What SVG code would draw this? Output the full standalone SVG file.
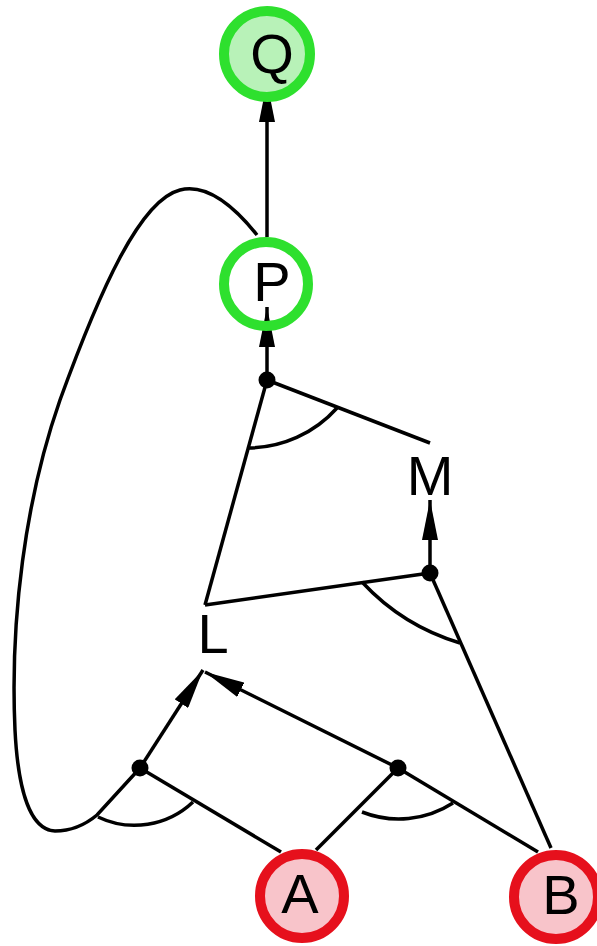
<svg xmlns="http://www.w3.org/2000/svg" width="597" height="946" viewBox="0 0 597 946">
<style>
.e{stroke:#000;stroke-width:3.5;fill:none}
.g{stroke:#2ee02e;stroke-width:10}
.r{stroke:#e6101c;stroke-width:10}
.t{font-family:"Liberation Sans",Arial,sans-serif;font-size:56px;fill:#000;text-anchor:middle}
.d{fill:#000}
</style>
<defs>
<marker id="ah" viewBox="0 0 40 16" refX="40" refY="8" markerUnits="userSpaceOnUse" markerWidth="40" markerHeight="16" orient="auto">
<path d="M0,0 L40,8 L0,16 z" fill="#000"/>
</marker>
</defs>
<rect width="597" height="946" fill="#fff"/>
<g id="connectors">
<line class="e" x1="267" y1="237" x2="267" y2="82" marker-end="url(#ah)"/>
<line class="e" x1="267" y1="380" x2="267" y2="307" marker-end="url(#ah)"/>
<line class="e" x1="430" y1="573" x2="430" y2="500" marker-end="url(#ah)"/>
<line class="e" x1="267" y1="380" x2="430" y2="443"/>
<line class="e" x1="267" y1="380" x2="205" y2="605"/>
<line class="e" x1="430" y1="573" x2="205" y2="605"/>
<line class="e" x1="430" y1="573" x2="551" y2="848"/>
<line class="e" x1="140" y1="768" x2="203" y2="670" marker-end="url(#ah)"/>
<line class="e" x1="398" y1="768" x2="205" y2="672" marker-end="url(#ah)"/>
<line class="e" x1="140" y1="768" x2="281" y2="852"/>
<line class="e" x1="398" y1="768" x2="316" y2="850"/>
<line class="e" x1="398" y1="768" x2="538" y2="852"/>
<path class="e" d="M257,235 C225,195 200,185 180,190 C140,200 100,290 60,400 C25,500 10,620 15,730 C18,790 30,830 55,831 C70,831 85,825 97,815 L140,768"/>
<path class="e" d="M248,448 A120 120 0 0 0 337,408"/>
<path class="e" d="M362,582 A220 220 0 0 0 460,643"/>
<path class="e" d="M98,817 A85 85 0 0 0 193,802"/>
<path class="e" d="M362,812 A100 100 0 0 0 453,803"/>
<circle class="d" cx="267" cy="380" r="8.5"/>
<circle class="d" cx="430" cy="573" r="8.5"/>
<circle class="d" cx="140" cy="768" r="8.5"/>
<circle class="d" cx="398" cy="768" r="8.5"/>
</g>
<g id="Q"><circle class="g" cx="267" cy="54" r="43" fill="#b8f2b8"/><text class="t" x="272" y="73">Q</text></g>
<g id="P"><circle class="g" cx="266" cy="284" r="42" fill="none"/><text class="t" x="272" y="301">P</text></g>
<g id="M"><text class="t" x="430" y="495">M</text></g>
<g id="L"><text class="t" x="213" y="653">L</text></g>
<g id="A"><circle class="r" cx="302" cy="896" r="42" fill="#f8c4ca"/><text class="t" x="300" y="913">A</text></g>
<g id="B"><circle class="r" cx="556" cy="897" r="42" fill="#f8c4ca"/><text class="t" x="561" y="914">B</text></g>
</svg>
